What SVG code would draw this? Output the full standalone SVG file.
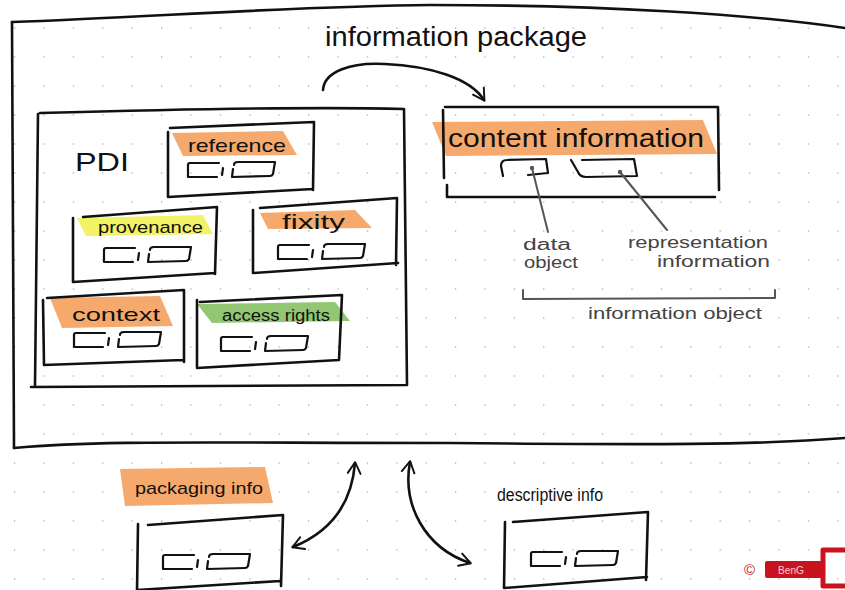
<svg xmlns="http://www.w3.org/2000/svg" width="845" height="590" viewBox="0 0 845 590">
<defs>
<style>
.ink{fill:none;stroke:#111;stroke-width:2.6;stroke-linecap:round;stroke-linejoin:round}
.thin{fill:none;stroke:#111;stroke-width:2.2;stroke-linecap:round;stroke-linejoin:round}
.gray{fill:none;stroke:#555;stroke-width:2;stroke-linecap:round;stroke-linejoin:round}
.t{font-family:"Liberation Sans","DejaVu Sans",sans-serif;fill:#111}
.tg{font-family:"Liberation Sans","DejaVu Sans",sans-serif;fill:#444}
.orange{fill:#f5a260;opacity:0.92}
.yellow{fill:#eef04a;opacity:0.85}
.green{fill:#86c063;opacity:0.9}
.red{fill:#c8141e}
</style>
<pattern id="dots" patternUnits="userSpaceOnUse" x="14" y="27" width="29.4" height="29">
<rect x="0" y="0" width="1.2" height="2" fill="#c4c4c4"/>
</pattern>
<symbol id="pair" viewBox="0 0 92 22" width="92" height="22" overflow="visible">
<path class="thin" d="M33 5 L4 5 Q2 5 2 7 L2 19 L31 19"/>
<path class="thin" d="M37 10 L36 17"/>
<path class="thin" d="M47 11 L46 19 L84 18 Q86 18 87 16 L89 4 L52 4 Q48 4 48 7"/>
</symbol>
<marker id="ah" viewBox="0 0 20 20" refX="16" refY="10" markerWidth="16" markerHeight="16" markerUnits="userSpaceOnUse" orient="auto-start-reverse">
<path d="M3 2 L17 10 L3 18" fill="none" stroke="#111" stroke-width="2.4" stroke-linecap="round" stroke-linejoin="round"/>
</marker>
</defs>
<rect width="845" height="590" fill="#fff"/>
<rect width="845" height="590" fill="url(#dots)"/>

<g id="information-package">
<path class="ink" d="M12 22 C150 17 300 6 430 5 C600 5 750 14 845 28"/>
<path class="ink" d="M12 22 L14 448"/>
<path class="ink" d="M14 448 C100 440 200 443 450 443 C650 445 760 445 845 438"/>
<text class="t" x="325" y="46" font-size="27" textLength="262" lengthAdjust="spacingAndGlyphs">information package</text>
</g>

<g id="pdi">
<path class="ink" d="M40 113 C150 110 300 106 404 109 L407 385 L31 387 M38 114 L35 386"/>
<text class="t" x="75" y="171" font-size="26" textLength="54" lengthAdjust="spacingAndGlyphs">PDI</text>
</g>

<g id="reference">
<path class="orange" d="M172 133 L283 131 L297 155 L183 156 Z"/>
<path class="ink" d="M170 128 L314 122 L313 190 M168 132 L168 197 L313 189"/>
<text class="t" x="188" y="152" font-size="19" textLength="98" lengthAdjust="spacingAndGlyphs">reference</text>
<use href="#pair" x="186" y="158"/>
</g>

<g id="provenance">
<path class="yellow" d="M77 218 L203 215 L213 234 L86 236 Z"/>
<path class="ink" d="M83 217 L217 207 L215 274 M73 218 L73 282 L215 273"/>
<text class="t" x="98" y="233" font-size="17" textLength="105" lengthAdjust="spacingAndGlyphs">provenance</text>
<use href="#pair" x="102" y="243"/>
</g>

<g id="fixity">
<path class="orange" d="M260 213 L355 210 L372 228 L268 229 Z"/>
<path class="ink" d="M260 208 L397 198 L396 265 M253 210 L253 273 L398 263"/>
<text class="t" x="282" y="229" font-size="21" textLength="63" lengthAdjust="spacingAndGlyphs">fixity</text>
<use href="#pair" x="276" y="240"/>
</g>

<g id="context">
<path class="orange" d="M50 298 L160 296 L173 326 L62 328 Z"/>
<path class="ink" d="M47 298 L184 290 L184 362 M43 300 L44 365 L183 360"/>
<text class="t" x="72" y="321" font-size="19" textLength="88" lengthAdjust="spacingAndGlyphs">context</text>
<use href="#pair" x="72" y="328"/>
</g>

<g id="access-rights">
<path class="green" d="M197 304 L335 302 L350 321 L212 323 Z"/>
<path class="ink" d="M200 302 L342 295 L339 360 M197 300 L197 368 L339 360"/>
<text class="t" x="222" y="321" font-size="16" textLength="108" lengthAdjust="spacingAndGlyphs">access rights</text>
<use href="#pair" x="219" y="332"/>
</g>

<g id="content-information">
<path class="orange" d="M432 122 L703 120 L717 154 L446 156 Z"/>
<path class="ink" d="M445 107 L718 107 L719 190 M443 110 L444 178 M447 185 L447 197 L715 197"/>
<text class="t" x="448" y="147" font-size="25" textLength="256" lengthAdjust="spacingAndGlyphs">content information</text>
<path class="thin" d="M503 176 L501 166 Q501 160 507 160 L546 159 L548 173 L528 175"/>
<path class="thin" d="M571 160 L578 172 Q580 177 586 177 L637 176 L634 159 L582 160"/>
<circle cx="532" cy="168" r="2.2" fill="#555"/>
<circle cx="620" cy="172" r="2.2" fill="#555"/>
</g>

<g id="data-object">
<text class="tg" x="523" y="250" font-size="16" textLength="48" lengthAdjust="spacingAndGlyphs">data</text>
<text class="tg" x="524" y="268" font-size="16" textLength="54" lengthAdjust="spacingAndGlyphs">object</text>
</g>

<g id="representation-information">
<text class="tg" x="628" y="248" font-size="16" textLength="140" lengthAdjust="spacingAndGlyphs">representation</text>
<text class="tg" x="657" y="267" font-size="16" textLength="113" lengthAdjust="spacingAndGlyphs">information</text>
</g>

<g id="information-object">
<path class="gray" d="M523 290 L523 299 L775 298 L775 290"/>
<text class="tg" x="588" y="319" font-size="16" textLength="174" lengthAdjust="spacingAndGlyphs">information object</text>
</g>

<g id="packaging-info">
<path class="orange" d="M120 469 L265 467 L273 503 L125 506 Z"/>
<text class="t" x="135" y="494" font-size="17" textLength="128" lengthAdjust="spacingAndGlyphs">packaging info</text>
<path class="ink" d="M148 525 L283 515 L281 586 M138 524 L137 592 M137 590 L280 581"/>
<use href="#pair" x="161" y="550"/>
</g>

<g id="descriptive-info">
<text class="t" x="497" y="501" font-size="18" textLength="106" lengthAdjust="spacingAndGlyphs">descriptive info</text>
<path class="ink" d="M513 522 L648 512 L646 580 M505 522 L504 588 L647 577"/>
<use href="#pair" x="529" y="547"/>
</g>

<g id="logo">
<text x="744" y="575" font-family="Liberation Sans,sans-serif" font-size="15" fill="#c8141e">©</text>
<rect class="red" x="765" y="561" width="57" height="17" rx="2"/>
<text x="778" y="574" font-family="Liberation Sans,sans-serif" font-size="11" fill="#f4d0d0" textLength="26" lengthAdjust="spacingAndGlyphs">BenG</text>
<path d="M848 550 L823 550 L823 586 L848 586" fill="none" stroke="#c8141e" stroke-width="5" stroke-linejoin="round"/>
</g>

<g id="connectors">
<path class="ink" d="M323 90 C324 72 350 62 385 64 C430 66 470 78 484 100" marker-end="url(#ah)"/>
<path class="ink" d="M355 463 C352 500 335 530 293 547" marker-start="url(#ah)" marker-end="url(#ah)"/>
<path class="ink" d="M410 462 C402 505 425 548 470 563" marker-start="url(#ah)" marker-end="url(#ah)"/>
<path class="gray" d="M532 168 L548 232"/>
<path class="gray" d="M620 172 L667 230"/>
</g>
</svg>
